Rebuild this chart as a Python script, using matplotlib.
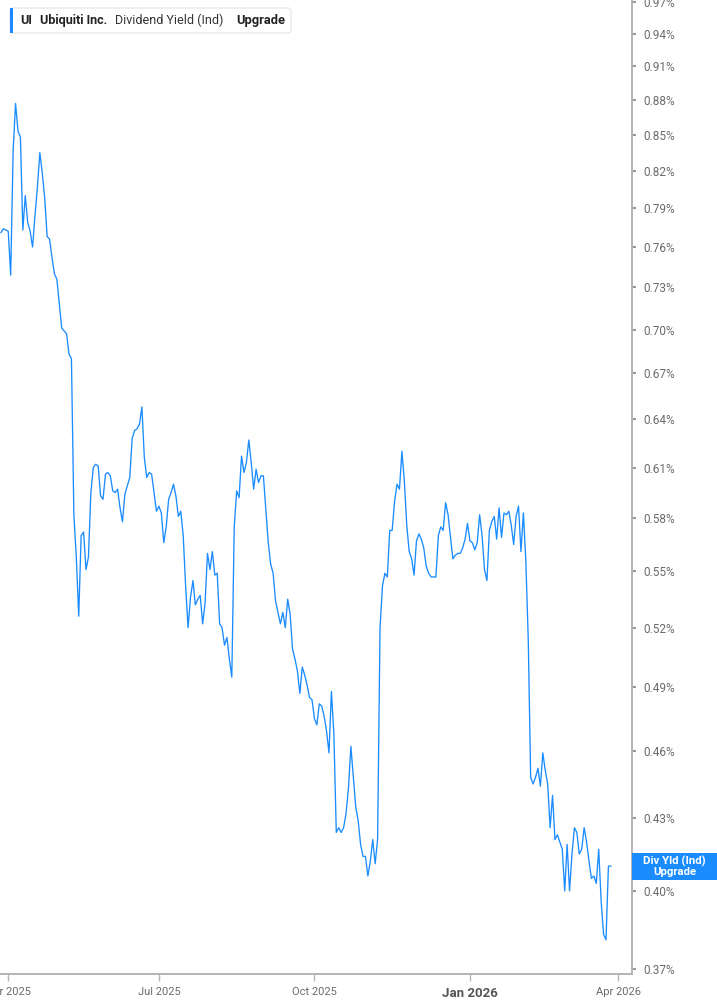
"""
UI dividend yield (ind) - line chart on a trading-day axis
"""

### Import modules
import numpy as np
import pandas as pd
import matplotlib
matplotlib.use('Agg')
import matplotlib.pyplot as plt
from matplotlib.patches import Rectangle, FancyBboxPatch
from matplotlib.ticker import FixedLocator, NullLocator, FuncFormatter

### Data (dividend yield in %, one value per session)
first_session = '2025-03-27'
last_session = '2026-03-27'
nyse_holidays = ['2025-04-18', '2025-05-26', '2025-06-19', '2025-07-04', '2025-09-01',
                 '2025-11-27', '2025-12-25', '2026-01-01', '2026-01-19', '2026-02-16',
                 '2026-04-03']
div_yield = [
    0.771, 0.774, 0.773, 0.772, 0.739, 0.836, 0.877, 0.853, 0.848, 0.773,
    0.800, 0.779, 0.772, 0.760, 0.784, 0.807, 0.835, 0.818, 0.798, 0.768,
    0.766, 0.752, 0.740, 0.736, 0.718, 0.701, 0.699, 0.697, 0.683, 0.680,
    0.582, 0.558, 0.526, 0.570, 0.572, 0.551, 0.558, 0.595, 0.610, 0.612,
    0.611, 0.593, 0.591, 0.606, 0.607, 0.605, 0.596, 0.595, 0.597, 0.586,
    0.578, 0.594, 0.599, 0.604, 0.628, 0.633, 0.634, 0.637, 0.648, 0.616,
    0.604, 0.607, 0.606, 0.595, 0.584, 0.587, 0.583, 0.566, 0.575, 0.591,
    0.595, 0.600, 0.593, 0.581, 0.584, 0.570, 0.542, 0.520, 0.536, 0.545,
    0.532, 0.535, 0.537, 0.522, 0.533, 0.560, 0.551, 0.561, 0.548, 0.549,
    0.522, 0.520, 0.511, 0.515, 0.504, 0.495, 0.575, 0.596, 0.592, 0.617,
    0.607, 0.613, 0.627, 0.613, 0.597, 0.609, 0.601, 0.605, 0.605, 0.585,
    0.566, 0.554, 0.549, 0.534, 0.528, 0.522, 0.528, 0.520, 0.535, 0.527,
    0.509, 0.504, 0.498, 0.487, 0.500, 0.496, 0.491, 0.485, 0.484, 0.475,
    0.472, 0.482, 0.481, 0.476, 0.469, 0.459, 0.488, 0.468, 0.424, 0.426,
    0.424, 0.426, 0.432, 0.443, 0.462, 0.448, 0.435, 0.429, 0.419, 0.414,
    0.414, 0.406, 0.412, 0.421, 0.411, 0.421, 0.520, 0.542, 0.549, 0.547,
    0.573, 0.573, 0.590, 0.600, 0.597, 0.620, 0.602, 0.576, 0.561, 0.557,
    0.548, 0.567, 0.571, 0.568, 0.563, 0.553, 0.549, 0.547, 0.547, 0.547,
    0.570, 0.575, 0.573, 0.589, 0.582, 0.569, 0.557, 0.559, 0.560, 0.560,
    0.563, 0.568, 0.577, 0.567, 0.566, 0.562, 0.566, 0.582, 0.570, 0.551,
    0.545, 0.573, 0.578, 0.581, 0.568, 0.586, 0.569, 0.583, 0.582, 0.584,
    0.576, 0.565, 0.581, 0.587, 0.561, 0.583, 0.556, 0.514, 0.448, 0.445,
    0.448, 0.452, 0.444, 0.459, 0.451, 0.445, 0.426, 0.440, 0.421, 0.423,
    0.420, 0.417, 0.400, 0.419, 0.400, 0.415, 0.426, 0.424, 0.415, 0.417,
    0.426, 0.420, 0.412, 0.405, 0.406, 0.403, 0.417, 0.396, 0.383, 0.381,
    0.410, 0.410]
yticks = [0.37, 0.40, 0.43, 0.46, 0.49, 0.52, 0.55, 0.58, 0.61, 0.64, 0.67,
          0.70, 0.73, 0.76, 0.79, 0.82, 0.85, 0.88, 0.91, 0.94, 0.97]
xtick_dates = ['2025-04-01', '2025-07-01', '2025-10-01', '2026-01-01', '2026-04-01']
xtick_labels = ['Apr 2025', 'Jul 2025', 'Oct 2025', 'Jan 2026', 'Apr 2026']
ticker = 'UI'
company = 'Ubiquiti Inc.'
metric = 'Dividend Yield (Ind)'
tag_lines = 'Div Yld (Ind)\nUpgrade'

### Trading calendar (sessions run past the last value so Apr 2026 can be placed)
calendar = pd.bdate_range(first_session, '2026-04-15')
calendar = calendar[~calendar.isin(pd.to_datetime(nyse_holidays))]
sessions = calendar[calendar <= pd.Timestamp(last_session)]
assert len(sessions) == len(div_yield)
idx = np.arange(len(div_yield))
tickpos = [int(calendar.searchsorted(pd.Timestamp(d))) for d in xtick_dates]

### Style
blue = '#1a8cff'
axcol = '#b4b4b4'
labcol = '#6b6b6b'
plt.rcParams['font.family'] = ['Roboto', 'DejaVu Sans']

W, H = 717, 1005
fig = plt.figure(figsize=(W/100, H/100), dpi=100)
ax = fig.add_axes([0, 31/H, 632/W, 1 - 31/H])

ax.plot(idx, div_yield, color=blue, lw=0.95, solid_joinstyle='round')

ax.set_yscale('log')
ax.set_ylim(0.3682, 0.9722)
ax.set_xlim(-0.4, 259.7)

for s in ['top', 'left']:
    ax.spines[s].set_visible(False)
for s in ['right', 'bottom']:
    ax.spines[s].set_color(axcol)
    ax.spines[s].set_linewidth(1.4)

ax.yaxis.tick_right()
ax.yaxis.set_major_locator(FixedLocator(yticks))
ax.yaxis.set_minor_locator(NullLocator())
ax.yaxis.set_major_formatter(FuncFormatter(lambda v, p: '%.2f%%' % v))
ax.tick_params(axis='y', length=3, width=1.5, color='#9a9a9a', pad=5,
               labelsize=8.5, labelcolor=labcol)

ax.set_xticks(tickpos)
ax.set_xticklabels(xtick_labels)
ax.tick_params(axis='x', length=5, width=1, color=axcol, pad=4,
               labelsize=8, labelcolor=labcol)
for lab in ax.get_xticklabels():
    if lab.get_text().startswith('Jan'):
        lab.set_fontweight('bold')
        lab.set_fontsize(9.5)
        lab.set_color('#555555')

### Legend box top-left
box = FancyBboxPatch((10/W, 1 - 33/H), 281/W, 25/H, transform=fig.transFigure,
                     boxstyle='round,pad=0,rounding_size=0.004', fc='white',
                     ec='#e4e4e4', lw=0.8)
fig.patches.append(box)
fig.patches.append(Rectangle((10/W, 1 - 33/H), 3/W, 25/H, transform=fig.transFigure,
                             fc=blue, ec='none'))
ty = 1 - 20.5/H
fig.text(20/W, ty, ticker, fontsize=9, fontweight='bold', color='#222222', va='center')
fig.text(40/W, ty, company, fontsize=9, fontweight='bold', color='#222222', va='center')
fig.text(115/W, ty, metric, fontsize=9, color='#333333', va='center')
fig.text(236/W, ty, 'Upgrade', fontsize=9.3, fontweight='bold', color='#222222', va='center')

### Last value tag on the right axis
ypx = ax.transData.transform((0, div_yield[-1]))[1]
fig.patches.append(Rectangle((632/W, (ypx - 13.5)/H), 85/W, 27/H,
                             transform=fig.transFigure, fc=blue, ec='none'))
fig.text(674.5/W, ypx/H, tag_lines, fontsize=8.2, fontweight='bold', color='white',
         ha='center', va='center', linespacing=1.0)

plt.savefig('out.png', dpi=100)
